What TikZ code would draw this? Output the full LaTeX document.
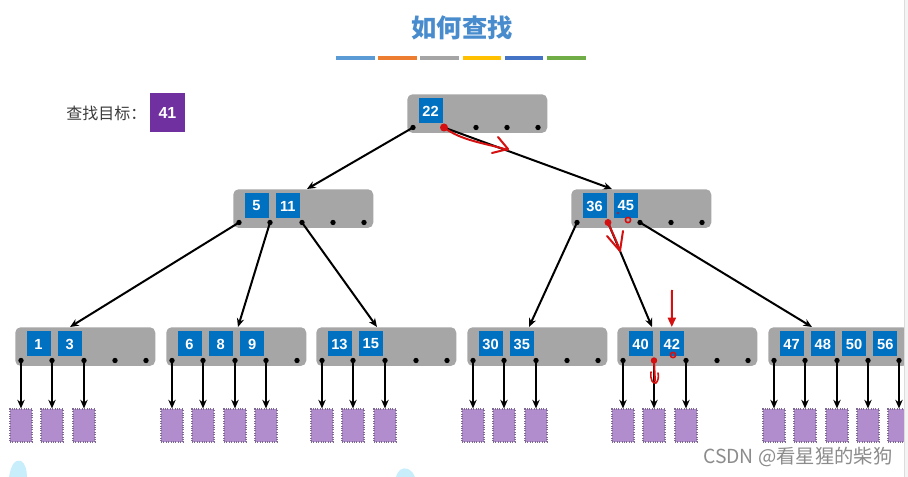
\documentclass[tikz,border=0pt]{standalone}
\usepackage{fontspec}
\setmainfont{Liberation Sans}
\newfontfamily\cjk{Noto Sans CJK SC}
\usetikzlibrary{arrows.meta}
\definecolor{barA}{RGB}{91,155,213}
\definecolor{barB}{RGB}{237,125,49}
\definecolor{barC}{RGB}{165,165,165}
\definecolor{barD}{RGB}{255,192,0}
\definecolor{barE}{RGB}{68,114,196}
\definecolor{barF}{RGB}{112,173,71}
\definecolor{pen}{RGB}{212,16,16}
\tikzset{
	nodebox/.style={fill={rgb, 255:red, 166; green, 166; blue, 166 }, rounded corners=4pt, minimum width=105pt, minimum height=29pt, inner sep=0pt, anchor=north west},
	keybox/.style={fill={rgb, 255:red, 0; green, 112; blue, 192 }, text=white, font=\bfseries\fontsize{11}{12}\selectfont, minimum width=18pt, minimum height=18.75pt, inner sep=0pt},
	ptr/.style={circle, fill=black, inner sep=0pt, minimum size=4pt},
	page/.style={fill={rgb, 255:red, 177; green, 141; blue, 205 }, draw={rgb, 255:red, 125; green, 105; blue, 145 }, densely dotted, line width=0.8pt, minimum width=16.5pt, minimum height=24.75pt, inner sep=0pt},
	link/.style={-{Stealth[length=6.5pt,width=5.5pt]}, line width=1.5pt},
	redpen/.style={draw=pen, line width=1.5pt, line cap=round, line join=round}
}
\begin{document}
\begin{tikzpicture}[x=0.75pt,y=0.75pt,yscale=-1,xscale=1]
	\useasboundingbox (0,0) rectangle (908,477);
	\fill[white] (0,0) rectangle (908,477);
	% title and colour bars
	\node[font=\cjk\bfseries\fontsize{19}{22}\selectfont, text={rgb, 255:red, 72; green, 140; blue, 206 }] (title) at (462,28) {如何查找};
	\foreach \c [count=\i from 0] in {barA,barB,barC,barD,barE,barF}
		\fill[\c] ({336+42.2*\i},56) rectangle +(38.5,4);
	% search target
	\node[font=\cjk\fontsize{12}{14}\selectfont, text={rgb, 255:red, 60; green, 60; blue, 60 }, anchor=west, inner sep=0pt] (goal) at (66,113) {查找目标：};
	\node[fill={rgb, 255:red, 112; green, 48; blue, 160 }, text=white, font=\bfseries\fontsize{12}{14}\selectfont, minimum width=26.25pt, minimum height=29.25pt, inner sep=0pt] (target) at (167.5,112.5) {41};
	% root and middle level
	\foreach \name/\lx/\ty/\keys in {root/407/94/{22}, midL/233/189/{5,11}, midR/571/189/{36,45}} {
		\node[nodebox] (\name) at (\lx,\ty) {};
		\foreach \k [count=\j from 0] in \keys
			\node[keybox] (\name-k\j) at ({\lx+23.5+31.3*\j},\ty+17) {\k};
		\foreach \i in {0,...,4}
			\node[ptr] (\name-p\i) at ({round(\lx+6+31.3*\i)},\ty+33.5) {};
	}
	% leaf level with its pages
	\foreach \n/\keys/\last in {1/{1,3}/2, 2/{6,8,9}/3, 3/{13,15}/2, 4/{30,35}/2, 5/{40,42}/2, 6/{47,48,50,56}/4} {
		\pgfmathsetmacro\lx{round(15+150.5*(\n-1))}
		\node[nodebox] (leaf\n) at (\lx,327) {};
		\foreach \k [count=\j from 0] in \keys
			\node[keybox] (leaf\n-k\j) at ({\lx+23.5+31.3*\j},344) {\k};
		\foreach \i in {0,...,4}
			\node[ptr] (leaf\n-p\i) at ({round(\lx+6+31.3*\i)},360.5) {};
		\foreach \i in {0,...,\last} {
			\node[page] (leaf\n-c\i) at ({round(\lx+6+31.3*\i)},425.5) {};
			\draw[link] (leaf\n-p\i.center) -- (leaf\n-c\i);
		}
	}
	\coordinate (midL-in) at (307,189);
	\coordinate (midR-in) at (612,189);
	\coordinate (leaf1-in) at (70,327);
	\coordinate (leaf2-in) at (238,327);
	\coordinate (leaf3-in) at (377,327);
	\coordinate (leaf4-in) at (529,327);
	\coordinate (leaf5-in) at (652,327);
	\coordinate (leaf6-in) at (812,327);
	\draw[link] (root-p0.center) -- (midL-in);
	\draw[link] (root-p1.center) -- (midR-in);
	\draw[link] (midL-p0.center) -- (leaf1-in);
	\draw[link] (midL-p1.center) -- (leaf2-in);
	\draw[link] (midL-p2.center) -- (leaf3-in);
	\draw[link] (midR-p0.center) -- (leaf4-in);
	\draw[link] (midR-p1.center) -- (leaf5-in);
	\draw[link] (midR-p2.center) -- (leaf6-in);
	% red pen marks
	\fill[pen] (root-p1.center) circle (3pt);
	\draw[redpen] (root-p1.center) .. controls (462,141) and (485,143) .. (508,150);
	\draw[redpen] (498,137) -- (508,149) -- (492,153);
	\fill[pen] (midR-p1.center) circle (2.6pt);
	\draw[redpen] (midR-p1.center) .. controls (612,232) and (617,242) .. (620,251);
	\draw[redpen] (607,236) -- (620,251) -- (623,231);
	\draw[redpen, line width=1.2pt] (628,220) circle (2pt);
	\fill[pen] (618,213) circle (0.8pt);
	\coordinate (hint) at (672,290);
	\draw[redpen, line cap=butt, -{Triangle[length=7pt,width=6pt]}] (hint) -- (leaf5-k1 |- leaf5.north);
	\fill[pen] (leaf5-p1.center) circle (2.4pt);
	\draw[redpen] (leaf5-p1.center) -- (655,381);
	\draw[redpen, line width=1.2pt] (651,372) .. controls (650,380) and (653,384) .. (656,383) .. controls (658,381) and (659,377) .. (658,373);
	\draw[redpen, line width=1.2pt] (673,355) circle (2pt);
	% watermark and frame
	\node[font=\cjk\fontsize{14.5}{17}\selectfont, text={rgb, 255:red, 140; green, 140; blue, 140 }, anchor=west, inner sep=0pt] (csdn) at (703,457) {CSDN @看星猩的柴狗};
	\fill[fill={rgb, 255:red, 200; green, 238; blue, 252 }] (9,477) .. controls (11,465) and (15,459) .. (21,461) .. controls (25,463) and (27,470) .. (27,477) -- cycle;
	\fill[fill={rgb, 255:red, 200; green, 238; blue, 252 }] (396,477) .. controls (398,470) and (402,467) .. (408,469) .. controls (412,471) and (414,474) .. (415,477) -- cycle;
	\fill[fill={rgb, 255:red, 244; green, 244; blue, 244 }] (904,0) rectangle (908,477);
	\draw[draw={rgb, 255:red, 220; green, 220; blue, 220 }] (904,0) -- (904,477);
\end{tikzpicture}
\end{document}
